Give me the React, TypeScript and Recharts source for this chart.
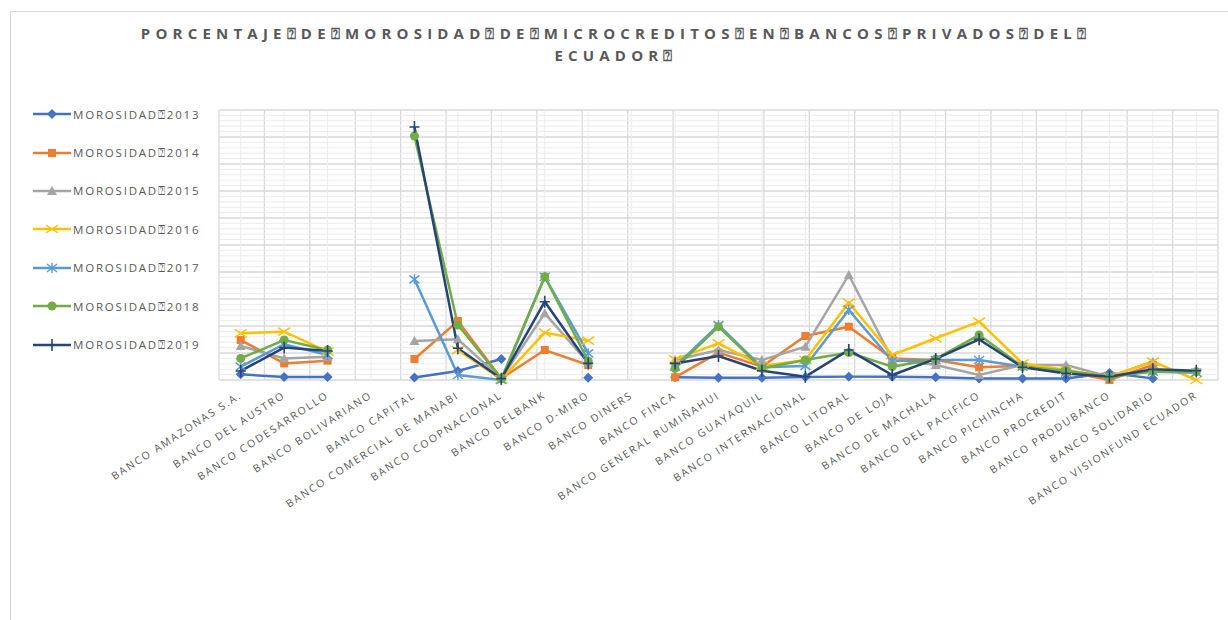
import React from "react";
import { LineChart, Line, XAxis, YAxis, CartesianGrid, Legend, ReferenceLine } from "recharts";

const BANKS = [
  "BANCO AMAZONAS S.A.",
  "BANCO DEL AUSTRO",
  "BANCO CODESARROLLO",
  "BANCO BOLIVARIANO",
  "BANCO CAPITAL",
  "BANCO COMERCIAL DE MANABI",
  "BANCO COOPNACIONAL",
  "BANCO DELBANK",
  "BANCO D-MIRO",
  "BANCO DINERS",
  "BANCO FINCA",
  "BANCO GENERAL RUMIÑAHUI",
  "BANCO GUAYAQUIL",
  "BANCO INTERNACIONAL",
  "BANCO LITORAL",
  "BANCO DE LOJA",
  "BANCO DE MACHALA",
  "BANCO DEL PACIFICO",
  "BANCO PICHINCHA",
  "BANCO PROCREDIT",
  "BANCO PRODUBANCO",
  "BANCO SOLIDARIO",
  "BANCO VISIONFUND ECUADOR",
];

const M2013 = [0.42, 0.22, 0.22, null, 0.18, 0.67, 1.56, null, 0.17, null, 0.2, 0.17, 0.17, 0.22, 0.25, 0.25, 0.2, 0.12, 0.12, 0.12, 0.52, 0.12, null];
const M2014 = [2.96, 1.23, 1.43, null, 1.56, 4.37, 0.12, 2.22, 1.11, null, 0.2, 2.03, 0.99, 3.26, 3.95, 1.6, 1.48, 0.94, 1.04, 0.62, 0.0, 1.11, null];
const M2015 = [2.52, 1.6, 1.73, null, 2.89, 3.01, 0.1, 4.94, 1.28, null, 1.48, 2.22, 1.48, 2.47, 7.78, 1.53, 1.11, 0.37, 1.11, 1.11, 0.25, 1.36, null];
const M2016 = [3.46, 3.58, 2.1, null, null, 2.22, 0.05, 3.51, 2.91, null, 1.53, 2.72, 1.04, 1.48, 5.73, 1.85, 3.09, 4.32, 1.23, 0.74, 0.25, 1.36, 0.0];
const M2017 = [0.99, 2.65, 1.85, null, 7.46, 0.37, 0.0, 7.65, 1.97, null, 0.99, 4.07, 0.94, 1.04, 5.19, 1.41, 1.48, 1.48, 0.99, 0.54, 0.3, 0.62, 0.54];
const M2018 = [1.6, 2.96, 2.22, null, 18.07, 4.07, 0.1, 7.65, 1.41, null, 0.86, 3.95, 0.86, 1.48, 2.03, 0.99, 1.56, 3.33, 0.99, 0.69, 0.25, 0.62, 0.62];
const M2019 = [0.67, 2.4, 2.15, null, 18.74, 2.35, 0.1, 5.8, 1.23, null, 1.23, 1.78, 0.69, 0.25, 2.22, 0.37, 1.56, 3.01, 0.94, 0.49, 0.25, 0.79, 0.69];

const SERIES = [
  { key: "m2013", name: "MOROSIDAD⍰2013", color: "#4472C4", marker: "diamond", values: M2013 },
  { key: "m2014", name: "MOROSIDAD⍰2014", color: "#ED7D31", marker: "square", values: M2014 },
  { key: "m2015", name: "MOROSIDAD⍰2015", color: "#A5A5A5", marker: "triangle", values: M2015 },
  { key: "m2016", name: "MOROSIDAD⍰2016", color: "#FFC000", marker: "x", values: M2016 },
  { key: "m2017", name: "MOROSIDAD⍰2017", color: "#5B9BD5", marker: "star", values: M2017 },
  { key: "m2018", name: "MOROSIDAD⍰2018", color: "#70AD47", marker: "circle", values: M2018 },
  { key: "m2019", name: "MOROSIDAD⍰2019", color: "#264478", marker: "plus", values: M2019 },
];

const MAJOR_TICKS = [0, 2, 4, 6, 8, 10, 12, 14, 16, 18, 20];
// minor gridlines every 0.4 (the ones not on a major line)
const MINOR_TICKS = Array.from({ length: 51 }, (_, i) => Math.round(i * 4) / 10).filter((v) => v % 2 !== 0);
const BOUNDS = Array.from({ length: BANKS.length + 1 }, (_, i) => i);

const data = BANKS.map((name, i) => {
  const row: any = { name };
  SERIES.forEach((s) => (row[s.key] = s.values[i]));
  return row;
});

const GREY = "#595959";
const FONT = "'Open Sans', sans-serif";
const MINOR = "#ededed";

function Marker({ type, x, y, color }: any) {
  switch (type) {
    case "diamond":
      return <path d={`M${x},${y - 5}L${x + 5},${y}L${x},${y + 5}L${x - 5},${y}Z`} fill={color} />;
    case "square":
      return <rect x={x - 4} y={y - 4} width={8} height={8} fill={color} />;
    case "triangle":
      return <path d={`M${x},${y - 5}L${x + 5},${y + 4}L${x - 5},${y + 4}Z`} fill={color} />;
    case "x":
      return <path d={`M${x - 6},${y - 4}L${x + 6},${y + 4}M${x - 6},${y + 4}L${x + 6},${y - 4}`} stroke={color} strokeWidth={1.5} fill="none" />;
    case "star":
      return <path d={`M${x - 5},${y - 4}L${x + 5},${y + 4}M${x - 5},${y + 4}L${x + 5},${y - 4}M${x},${y - 5}L${x},${y + 5}`} stroke={color} strokeWidth={1.5} fill="none" />;
    case "circle":
      return <circle cx={x} cy={y} r={4.5} fill={color} />;
    default:
      return <path d={`M${x - 5},${y}L${x + 5},${y}M${x},${y - 6}L${x},${y + 6}`} stroke={color} strokeWidth={1.6} fill="none" />;
  }
}

const makeDot = (s: any) => (p: any) => {
  if (p.value == null || p.cx == null || p.cy == null) return <g key={p.key} />;
  return (
    <g key={p.key}>
      <Marker type={s.marker} x={p.cx} y={p.cy} color={s.color} />
    </g>
  );
};

const BankTick = ({ x, y, payload }: any) => {
  const ax = x + 2;
  const ay = y + 15;
  return (
    <text
      x={ax}
      y={ay}
      transform={`rotate(-33, ${ax}, ${ay})`}
      textAnchor="end"
      fontSize={10.5}
      letterSpacing={1.9}
      fill={GREY}
      fontFamily={FONT}
    >
      {payload.value}
    </text>
  );
};

const renderLegend = () => (
  <div>
    {SERIES.map((s) => (
      <div key={s.key} style={{ display: "flex", alignItems: "center", height: 38.4 }}>
        <svg width={40} height={14}>
          <line x1={1} y1={7} x2={39} y2={7} stroke={s.color} strokeWidth={2.5} />
          <Marker type={s.marker} x={20} y={7} color={s.color} />
        </svg>
        <span style={{ marginLeft: 1, fontSize: 11.5, letterSpacing: 1.8, color: GREY, fontFamily: FONT }}>
          {s.name}
        </span>
      </div>
    ))}
  </div>
);

export default function App() {
  return (
    <div style={{ position: "absolute", left: 0, top: 0, width: 1228, height: 620, overflow: "hidden", background: "#fff" }}>
      <div style={{ position: "absolute", left: 10, top: 11, width: 1240, height: 640, border: "1px solid #d9d9d9" }} />
      <div
        style={{
          position: "absolute",
          left: 2,
          top: 22,
          width: 1228,
          textAlign: "center",
          fontFamily: FONT,
          fontWeight: 700,
          fontSize: 15,
          letterSpacing: 5.2,
          lineHeight: "22px",
          color: GREY,
        }}
      >
        PORCENTAJE⍰DE⍰MOROSIDAD⍰DE⍰MICROCREDITOS⍰EN⍰BANCOS⍰PRIVADOS⍰DEL⍰
        <br />
        ECUADOR⍰
      </div>
      <LineChart
        width={1228}
        height={620}
        data={data}
        margin={{ top: 110, right: 10, left: 219, bottom: 110 }}
        style={{ position: "absolute", left: 0, top: 0 }}
      >
        <XAxis xAxisId="grid" type="number" domain={[0, BANKS.length]} ticks={BOUNDS} hide />
        <YAxis yAxisId="major" domain={[0, 20]} ticks={MAJOR_TICKS} hide />
        <XAxis
          xAxisId="cat"
          dataKey="name"
          interval={0}
          height={130}
          padding={{ left: 21.7, right: 21.7 }}
          tick={<BankTick />}
          tickLine={false}
          axisLine={false}
          tickSize={0}
        />
        {MINOR_TICKS.map((v) => (
          <ReferenceLine key={`h${v}`} xAxisId="cat" yAxisId="major" y={v} stroke={MINOR} strokeWidth={1} />
        ))}
        {BANKS.map((b) => (
          <ReferenceLine key={`v${b}`} xAxisId="cat" yAxisId="major" x={b} stroke={MINOR} strokeWidth={1} />
        ))}
        <CartesianGrid xAxisId="grid" yAxisId="major" stroke="#d9d9d9" strokeWidth={1.3} />
        <Legend
          layout="vertical"
          align="center"
          verticalAlign="middle"
          content={renderLegend}
          wrapperStyle={{ left: 32, top: 95, width: 190 }}
        />
        {SERIES.map((s) => (
          <Line
            key={s.key}
            xAxisId="cat"
            yAxisId="major"
            dataKey={s.key}
            name={s.name}
            stroke={s.color}
            strokeWidth={2.5}
            dot={makeDot(s)}
            activeDot={false}
            isAnimationActive={false}
          />
        ))}
      </LineChart>
    </div>
  );
}
